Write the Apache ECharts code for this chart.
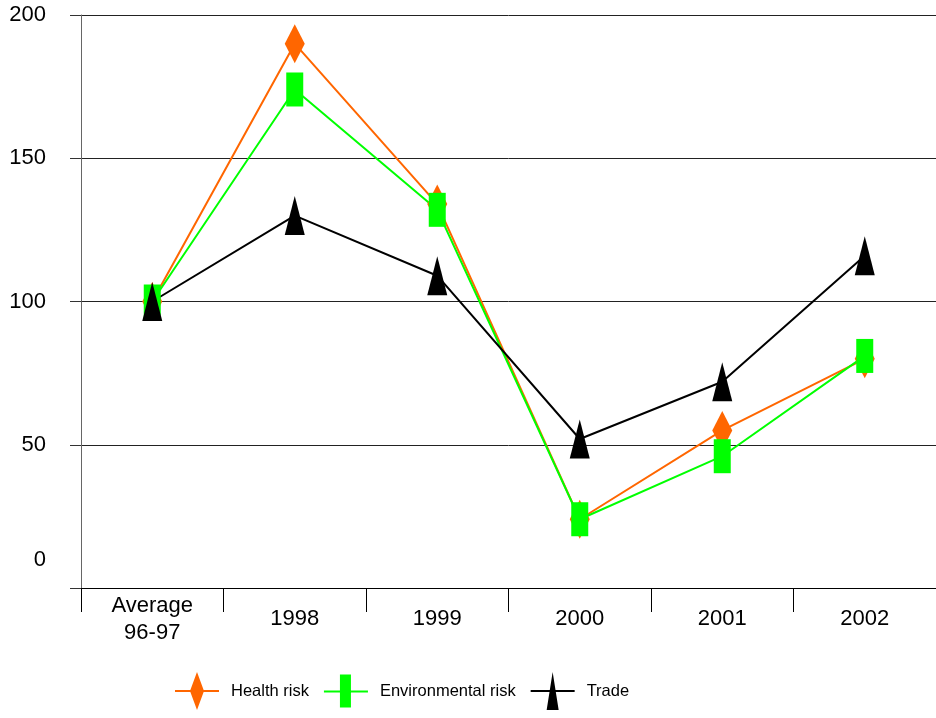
<!DOCTYPE html>
<html>
<head>
<meta charset="utf-8">
<script src="https://cdn.jsdelivr.net/npm/echarts@6/dist/echarts.min.js"></script>
<style>
html,body{margin:0;padding:0;background:#fff;}
#chart{width:936px;height:718px;}
</style>
</head>
<body>
<div id="chart"></div>
<script>
var categories = ['Average\n96-97', '1998', '1999', '2000', '2001', '2002'];
var healthRisk = [100, 190, 134, 24, 55, 80];
var environmentalRisk = [100, 174, 132, 24, 46, 81];
var trade = [100, 130, 109, 52, 72, 116];
var seriesNames = ['Health risk', 'Environmental risk', 'Trade'];

var chart = echarts.init(document.getElementById('chart'), null, {renderer: 'canvas'});
var font = 'Liberation Sans, Arial, sans-serif';

var option = {
  animation: false,
  backgroundColor: '#ffffff',
  grid: {left: 81, width: 859, top: 15, height: 573, containLabel: false},
  xAxis: {
    type: 'category',
    data: categories,
    boundaryGap: true,
    axisLine: {show: true, lineStyle: {color: '#000', width: 1}},
    axisTick: {show: true, length: 24, lineStyle: {color: '#000', width: 1}},
    axisLabel: {
      color: '#000', fontFamily: font, fontSize: 22, lineHeight: 27,
      verticalAlign: 'middle', margin: 31, interval: 0
    },
    splitLine: {show: false}
  },
  yAxis: {
    type: 'value',
    min: 0, max: 200, interval: 50,
    axisLine: {show: true, lineStyle: {color: '#666', width: 1}},
    axisTick: {show: true, length: 11, lineStyle: {color: '#333', width: 1}},
    axisLabel: {
      color: '#000', fontFamily: font, fontSize: 22, margin: 35,
      formatter: function (v) { return v === 0 ? '{z|0}' : String(v); },
      rich: {z: {fontFamily: font, fontSize: 22, color: '#000', padding: [0, 0, 56, 0]}}
    },
    splitLine: {show: true, lineStyle: {color: '#222', width: 1}}
  },
  legend: {
    left: 175, top: 672, padding: 0,
    itemWidth: 44, itemHeight: 38, itemGap: 15,
    textStyle: {color: '#000', fontFamily: font, fontSize: 16.5, padding: [0, 0, 0, 7]},
    itemStyle: {borderWidth: 0},
    data: [
      {name: seriesNames[0], icon: 'path://M0,18L44,18L44,20L0,20Z M22,0L29,19L22,38L15,19Z'},
      {name: seriesNames[1], icon: 'path://M0,18L44,18L44,20L0,20Z M16,2L27,2L27,35L16,35Z'},
      {name: seriesNames[2], icon: 'path://M0,18L44,18L44,20L0,20Z M22,0L28,38L16,38Z'}
    ]
  },
  series: [
    {
      name: seriesNames[0], type: 'line', data: healthRisk,
      symbol: 'diamond', symbolSize: [20, 39],
      lineStyle: {color: '#FF6600', width: 2},
      itemStyle: {color: '#FF6600'}
    },
    {
      name: seriesNames[1], type: 'line', data: environmentalRisk,
      symbol: 'rect', symbolSize: [17, 34],
      lineStyle: {color: '#00FF00', width: 2},
      itemStyle: {color: '#00FF00'}
    },
    {
      name: seriesNames[2], type: 'line', data: trade,
      symbol: 'triangle', symbolSize: [20, 39],
      lineStyle: {color: '#000000', width: 2},
      itemStyle: {color: '#000000'}
    }
  ]
};
chart.setOption(option);
</script>
</body>
</html>
